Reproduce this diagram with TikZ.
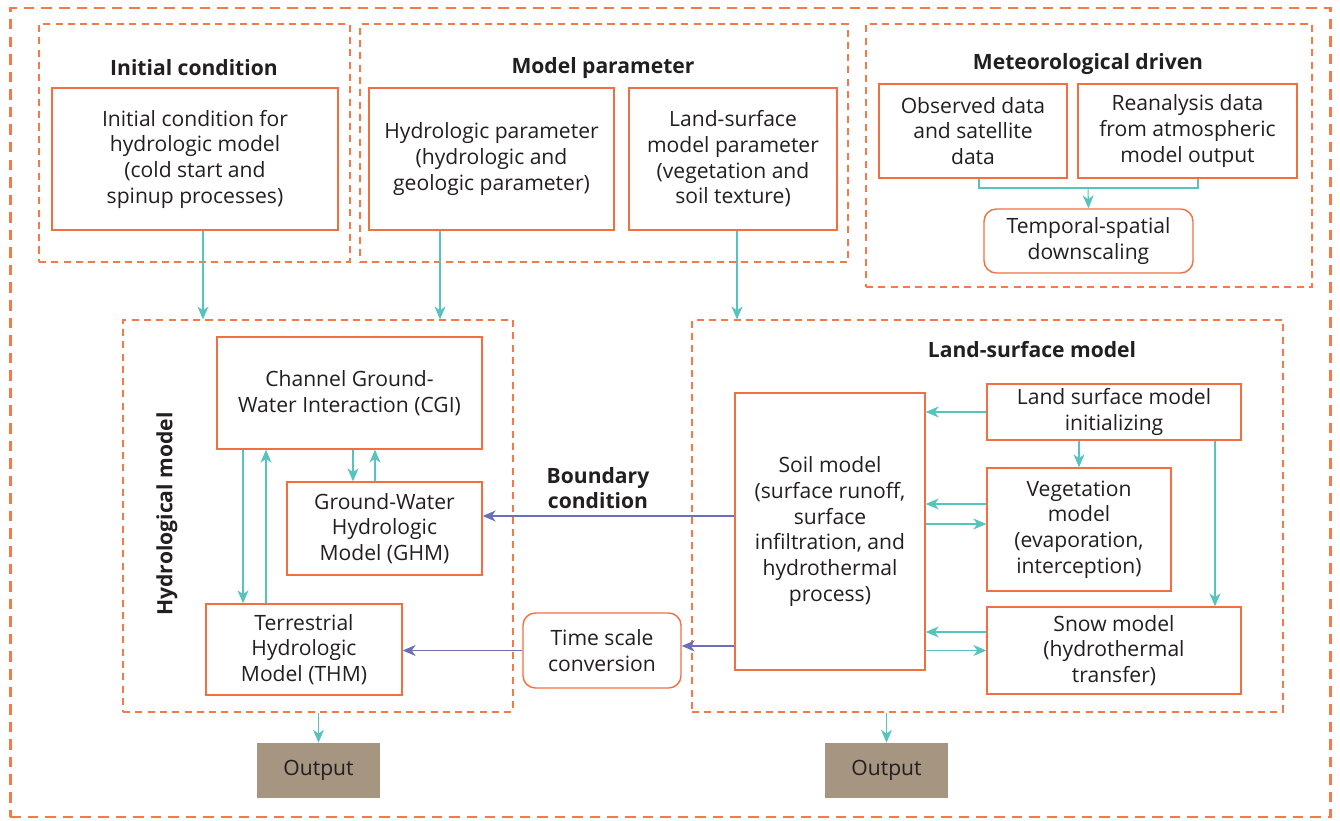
\documentclass[tikz,border=0pt]{standalone}
\usepackage{fontspec}
\setmainfont{Open Sans}
\usetikzlibrary{arrows.meta,positioning,calc}
\definecolor{hbord}{HTML}{F26F3F}
\definecolor{hdash}{HTML}{F47A4A}
\definecolor{hteal}{HTML}{55C4BF}
\definecolor{hblue}{HTML}{6A6FBA}
\definecolor{hout}{HTML}{A69580}
\definecolor{htext}{HTML}{231F20}
\tikzset{
  outerbox/.style={draw=hdash, line width=1.6pt, dash pattern=on 6pt off 4pt,
                   inner sep=0pt},
  grpbox/.style={draw=hdash, line width=0.7pt, dash pattern=on 4pt off 3pt,
                 inner sep=0pt},
  blk/.style={draw=hbord, line width=0.8pt, fill=white, align=center, text=htext,
              inner sep=0pt, font=\fontsize{12}{14.6}\selectfont},
  rblk/.style={blk, rounded corners=7pt},
  outbox/.style={fill=hout, text=htext, inner sep=0pt,
                 font=\fontsize{12}{14.6}\selectfont},
  ttl/.style={text=htext, align=center, font=\fontsize{12}{14.6}\selectfont\bfseries},
  tln/.style={draw=hteal, line width=0.6pt},
  tarr/.style={-{Stealth[length=2.6mm, width=2.2mm, inset=0.8mm]}, tln},
  barr/.style={-{Stealth[length=2.6mm, width=2.2mm, inset=0.8mm]}, draw=hblue, line width=0.6pt}}

\begin{document}
\begin{tikzpicture}[x=0.02cm, y=-0.02cm]
  \useasboundingbox (0,0) rectangle (1340,821);
  \node[outerbox, minimum width=26.42cm, minimum height=16.18cm] (all) at (670.5,412.5) {};
  % inputs on top
  \node[grpbox, minimum width=6.22cm, minimum height=4.76cm] (icgrp) at (194.5,143) {};
  \node[ttl] (ictitle) at (194,68) {Initial condition};
  \node[blk, minimum width=5.72cm, minimum height=2.84cm] (icbox) at (195,159)
    {Initial condition for\\ hydrologic model\\ (cold start and\\ spinup processes)};
  \node[grpbox, minimum width=9.76cm, minimum height=4.76cm] (mpgrp) at (604,143) {};
  \node[ttl] (mptitle) at (603,68) {Model parameter};
  \node[blk, minimum width=4.9cm, minimum height=2.84cm] (hpar) at (491.5,159)
    {Hydrologic parameter\\ (hydrologic and\\ geologic parameter)};
  \node[blk, minimum width=4.16cm, minimum height=2.84cm] (lpar) at (733,159)
    {Land-surface\\ model parameter\\ (vegetation and\\ soil texture)};
  \node[grpbox, minimum width=8.92cm, minimum height=5.26cm] (mdgrp) at (1089,155.5) {};
  \node[ttl] (mdtitle) at (1088,64) {Meteorological driven};
  \node[blk, minimum width=3.76cm, minimum height=1.88cm] (obs) at (973,131)
    {Observed data\\ and satellite\\ data};
  \node[blk, minimum width=4.38cm, minimum height=1.88cm] (rea) at (1187.5,131)
    {Reanalysis data\\ from atmospheric\\ model output};
  \node[rblk, minimum width=4.18cm, minimum height=1.28cm] (tsd) at (1088.5,241)
    {Temporal-spatial\\ downscaling};
  \coordinate (mrg) at (1088,188);
  \draw[tln] ([xshift=0.12cm]obs.south) |- (mrg) -| ([xshift=0.21cm]rea.south);
  \draw[tarr] (mrg) -- (tsd.north);
  % hydrological model
  \node[grpbox, minimum width=7.8cm, minimum height=7.84cm] (hyd) at (318,516) {};
  \node[ttl, rotate=90] (hydlab) at (167,514) {Hydrological model};
  \node[blk, minimum width=5.3cm, minimum height=2.24cm] (cgi) at (349.5,393)
    {Channel Ground-\\ Water Interaction (CGI)};
  \node[blk, minimum width=3.9cm, minimum height=1.86cm] (ghm) at (384.5,528.5)
    {Ground-Water\\ Hydrologic\\ Model (GHM)};
  \node[blk, minimum width=3.92cm, minimum height=1.82cm] (thm) at (304,649.5)
    {Terrestrial\\ Hydrologic\\ Model (THM)};
  \draw[tarr] ([xshift=-1.22cm]thm.north |- cgi.south) -- ([xshift=-1.22cm]thm.north);
  \draw[tarr] ([xshift=-0.76cm]thm.north) -- ([xshift=-0.76cm]thm.north |- cgi.south);
  \draw[tarr] ([xshift=-0.63cm]ghm.north |- cgi.south) -- ([xshift=-0.63cm]ghm.north);
  \draw[tarr] ([xshift=-0.19cm]ghm.north) -- ([xshift=-0.19cm]ghm.north |- cgi.south);
  % land-surface model
  \node[grpbox, minimum width=11.82cm, minimum height=7.84cm] (lsm) at (987.5,516) {};
  \node[ttl] (lsmtitle) at (1032,350) {Land-surface model};
  \node[blk, minimum width=3.8cm, minimum height=5.54cm] (soil) at (830,531.5)
    {Soil model\\ (surface runoff,\\ surface\\ infiltration, and\\ hydrothermal\\ process)};
  \node[blk, minimum width=5.08cm, minimum height=1.12cm] (init) at (1114,412)
    {Land surface model\\ initializing};
  \node[blk, minimum width=3.68cm, minimum height=2.46cm] (veg) at (1079,529.5)
    {Vegetation\\ model\\ (evaporation,\\ interception)};
  \node[blk, minimum width=5.08cm, minimum height=1.74cm] (snow) at (1114,650.5)
    {Snow model\\ (hydrothermal\\ transfer)};
  \draw[tarr] (init.west) -- (init.west -| soil.east);
  \draw[tarr] ([yshift=0.51cm]veg.west) -- ([yshift=0.51cm]veg.west -| soil.east);
  \draw[tarr] ([yshift=0.11cm]veg.west -| soil.east) -- ([yshift=0.11cm]veg.west);
  \draw[tarr] ([yshift=0.37cm]snow.west) -- ([yshift=0.37cm]snow.west -| soil.east);
  \draw[tarr] (snow.west -| soil.east) -- (snow.west);
  \draw[tarr] (veg.north |- init.south) -- (veg.north);
  \draw[tarr] ([xshift=2.02cm]snow.north |- init.south) -- ([xshift=2.02cm]snow.north);
  % coupling between the two models
  \node[rblk, minimum width=3.16cm, minimum height=1.5cm] (tsc) at (602,650.5)
    {Time scale\\ conversion};
  \node[ttl] (bclab) at (598,488) {Boundary\\ condition};
  \draw[barr] ([yshift=0.31cm]soil.west) -- ([yshift=0.31cm]soil.west -| ghm.east);
  \draw[barr] ([yshift=-2.29cm]soil.west) -- ([yshift=-2.29cm]soil.west -| tsc.east);
  \draw[barr] (tsc.west) -- (tsc.west -| thm.east);
  % inputs into the models
  \draw[tarr] ([xshift=0.16cm]icbox.south) -- ([xshift=0.16cm]icbox.south |- hyd.north);
  \draw[tarr] ([xshift=-1.03cm]hpar.south) -- ([xshift=-1.03cm]hpar.south |- hyd.north);
  \draw[tarr] ([xshift=0.08cm]lpar.south) -- ([xshift=0.08cm]lpar.south |- lsm.north);
  % outputs
  \node[outbox, minimum width=2.46cm, minimum height=1.1cm] (out1) at (318.5,770.5) {Output};
  \node[outbox, minimum width=2.46cm, minimum height=1.1cm] (out2) at (886.5,770.5) {Output};
  \draw[tarr] (out1.north |- hyd.south) -- (out1.north);
  \draw[tarr] (out2.north |- lsm.south) -- (out2.north);
\end{tikzpicture}
\end{document}
